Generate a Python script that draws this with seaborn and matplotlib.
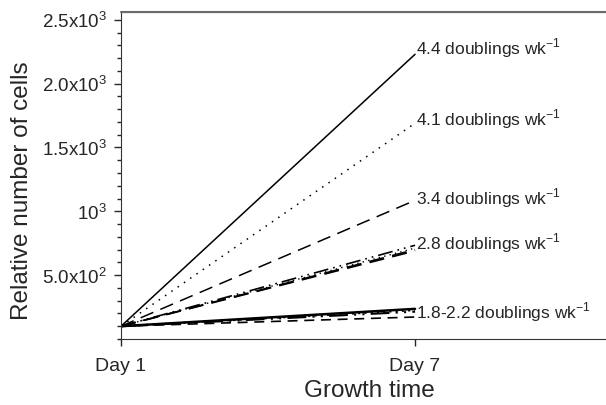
import numpy as np
import pandas as pd
import seaborn as sns
import matplotlib.pyplot as plt
from matplotlib.ticker import MultipleLocator

# growth curves, relative cell number at Day 1 and Day 7
days = [1, 7]
start_cells = 100
end_4_4 = 2230
end_4_1 = 1690
end_3_4 = 1086
end_2_8 = [734, 712, 700, 690]
end_low = [236, 226, 214, 172]

group_labels = ["4.4 doublings wk$^{-1}$", "4.1 doublings wk$^{-1}$",
                "3.4 doublings wk$^{-1}$", "2.8 doublings wk$^{-1}$",
                "1.8-2.2 doublings wk$^{-1}$"]
ytick_vals = [500, 1000, 1500, 2000, 2500]
ytick_labels = ["5.0x10$^2$", "10$^3$", "1.5x10$^3$", "2.0x10$^3$", "2.5x10$^3$"]

sns.set_style("ticks")
plt.rcParams['font.family'] = ['Liberation Sans', 'DejaVu Sans']
plt.rcParams['mathtext.fontset'] = 'custom'
plt.rcParams['mathtext.rm'] = 'Liberation Sans'

fig = plt.figure(figsize=(6.06, 4.05), dpi=100)
ax = fig.add_axes([0.1997, 0.163, 0.82, 0.807])

solid = (None, None)
dotted = (0, (1, 4))
longdash = (0, (9, 5))
dashdot = (0, (9, 3, 1, 3, 1, 3))
dashed = (0, (6, 4))

series = [
    (end_4_4, solid, 1.1),
    (end_4_1, dotted, 1.1),
    (end_3_4, longdash, 1.1),
    (end_2_8[0], dashdot, 1.2),
    (end_2_8[1], (0, (1, 3)), 1.0),
    (end_2_8[2], longdash, 1.2),
    (end_2_8[3], longdash, 1.2),
    (end_low[0], solid, 1.8),
    (end_low[1], (0, (1, 2)), 1.5),
    (end_low[2], dashdot, 1.5),
    (end_low[3], dashed, 1.2),
]

for end, ls, lw in series:
    df = pd.DataFrame({"day": days, "cells": [start_cells, end]})
    sns.lineplot(data=df, x="day", y="cells", color="black", lw=lw, ax=ax)
    l = ax.get_lines()[-1]
    if ls != (None, None):
        l.set_linestyle(ls)

label_y = [end_4_4 + 50, end_4_1 + 35, end_3_4 + 15, end_2_8[0] + 15, end_low[0] - 25]
for txt, yv in zip(group_labels, label_y):
    ax.text(days[1] + 0.02, yv, txt, fontsize=12.5, va='center', ha='left')

ax.set_xlim(1, 11.14)
ax.set_ylim(0, 2560)
ax.set_xticks(days)
ax.set_xticklabels(["Day 1", "Day 7"], fontsize=14)
ax.set_yticks(ytick_vals)
ax.set_yticklabels(ytick_labels, fontsize=13.5)
ax.yaxis.set_minor_locator(MultipleLocator(100))
ax.tick_params(axis='x', which='major', length=5, width=1, direction='out', pad=9)
ax.tick_params(axis='y', which='major', length=5, width=1, direction='out', pad=5)
ax.tick_params(axis='y', which='minor', length=3, width=1, direction='out')
ax.set_xlabel("Growth time", fontsize=17.5)
ax.xaxis.set_label_coords(0.5, -0.125)
ax.set_ylabel("Relative number of cells", fontsize=17.5)
ax.yaxis.set_label_coords(-0.178, 0.455)

ax.spines['right'].set_visible(False)
ax.spines['left'].set_color('#333333')
ax.spines['bottom'].set_color('#333333')
if ax.get_legend():
    ax.get_legend().remove()
# grey frame line along the top of the plot
ax.axhline(ax.get_ylim()[1], color='#6a6a6a', lw=1.5, clip_on=False, zorder=5)

fig.savefig("out.png", dpi=100)
